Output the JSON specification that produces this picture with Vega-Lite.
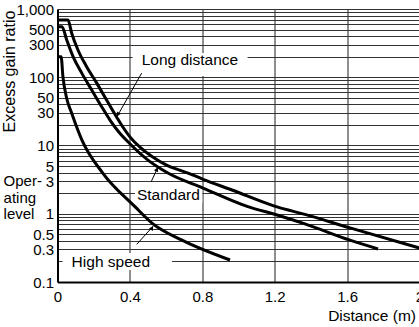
{
  "$schema": "https://vega.github.io/schema/vega-lite/v6.json",
  "width": 362,
  "height": 273,
  "autosize": {"type": "none"},
  "padding": {"left": 57.5, "top": 9, "right": 0, "bottom": 45},
  "background": "white",
  "config": {"view": {"stroke": null}, "font": "Liberation Sans"},
  "datasets": {
    "curves": [
      {"series": "Long distance", "x": 0, "y": 690},
      {"series": "Long distance", "x": 0.058, "y": 690},
      {"series": "Long distance", "x": 0.078, "y": 445},
      {"series": "Long distance", "x": 0.113, "y": 251},
      {"series": "Long distance", "x": 0.161, "y": 143},
      {"series": "Long distance", "x": 0.217, "y": 82},
      {"series": "Long distance", "x": 0.272, "y": 46},
      {"series": "Long distance", "x": 0.327, "y": 26},
      {"series": "Long distance", "x": 0.36, "y": 18.8},
      {"series": "Long distance", "x": 0.4, "y": 13.4},
      {"series": "Long distance", "x": 0.46, "y": 9.2},
      {"series": "Long distance", "x": 0.522, "y": 6.9},
      {"series": "Long distance", "x": 0.6, "y": 5.2},
      {"series": "Long distance", "x": 0.721, "y": 3.95},
      {"series": "Long distance", "x": 0.804, "y": 3.2},
      {"series": "Long distance", "x": 0.964, "y": 2.23},
      {"series": "Long distance", "x": 1.213, "y": 1.26},
      {"series": "Long distance", "x": 1.367, "y": 0.98},
      {"series": "Long distance", "x": 1.616, "y": 0.62},
      {"series": "Long distance", "x": 2.0, "y": 0.315},
      {"series": "Standard", "x": 0, "y": 550},
      {"series": "Standard", "x": 0.025, "y": 550},
      {"series": "Standard", "x": 0.051, "y": 351},
      {"series": "Standard", "x": 0.086, "y": 200},
      {"series": "Standard", "x": 0.134, "y": 115},
      {"series": "Standard", "x": 0.189, "y": 65},
      {"series": "Standard", "x": 0.244, "y": 37},
      {"series": "Standard", "x": 0.29, "y": 23.6},
      {"series": "Standard", "x": 0.34, "y": 15.6},
      {"series": "Standard", "x": 0.4, "y": 10.6},
      {"series": "Standard", "x": 0.5, "y": 6.1},
      {"series": "Standard", "x": 0.61, "y": 3.95},
      {"series": "Standard", "x": 0.804, "y": 2.38},
      {"series": "Standard", "x": 1.052, "y": 1.27},
      {"series": "Standard", "x": 1.213, "y": 0.96},
      {"series": "Standard", "x": 1.367, "y": 0.71},
      {"series": "Standard", "x": 1.616, "y": 0.41},
      {"series": "Standard", "x": 1.771, "y": 0.305},
      {"series": "High speed", "x": 0, "y": 200},
      {"series": "High speed", "x": 0.02, "y": 200},
      {"series": "High speed", "x": 0.03, "y": 102},
      {"series": "High speed", "x": 0.05, "y": 50},
      {"series": "High speed", "x": 0.08, "y": 29},
      {"series": "High speed", "x": 0.135, "y": 12},
      {"series": "High speed", "x": 0.25, "y": 3.95},
      {"series": "High speed", "x": 0.428, "y": 1.27},
      {"series": "High speed", "x": 0.522, "y": 0.73},
      {"series": "High speed", "x": 0.688, "y": 0.41},
      {"series": "High speed", "x": 0.953, "y": 0.21}
    ],
    "boxes": [
      {"name": "Long distance", "x": 0.415, "x2": 1.05, "y": 104, "y2": 226},
      {"name": "Standard", "x": 0.428, "x2": 0.8, "y": 1.44, "y2": 2.47},
      {"name": "High speed", "x": 0.028, "x2": 0.633, "y": 0.15, "y2": 0.266}
    ],
    "labels": [
      {"text": "Long distance", "x": 0.465, "y": 179},
      {"text": "Standard", "x": 0.439, "y": 1.88},
      {"text": "High speed", "x": 0.078, "y": 0.198}
    ],
    "side": [
      {"text": "Oper-\nating\nlevel", "x": -0.298, "y": 3}
    ],
    "arrows": [
      {"name": "Long distance", "x": 0.465, "y": 115, "x2": 0.327, "y2": 26},
      {"name": "Standard", "x": 0.517, "y": 2.92, "x2": 0.555, "y2": 4.84},
      {"name": "High speed", "x": 0.4376, "y": 0.356, "x2": 0.529, "y2": 0.66}
    ],
    "heads": [
      {"name": "Long distance", "x": 0.334, "y": 28.5},
      {"name": "Standard", "x": 0.549, "y": 4.48},
      {"name": "High speed", "x": 0.522, "y": 0.617}
    ]
  },
  "encoding": {
    "x": {
      "field": "x",
      "type": "quantitative",
      "scale": {"type": "linear", "domain": [0, 2], "nice": false, "zero": false},
      "axis": {
        "values": [0, 0.4, 0.8, 1.2, 1.6, 2],
        "labelExpr": "'' + datum.value",
        "grid": true,
        "gridColor": "#444",
        "gridWidth": 1.2,
        "gridOpacity": 1,
        "ticks": false,
        "domain": true,
        "domainColor": "black",
        "domainWidth": 2,
        "labelFlush": false,
        "labelOverlap": false,
        "labelPadding": 7,
        "labelFontSize": 15,
        "labelColor": "black",
        "title": "Distance (m)",
        "titleFontSize": 15.5,
        "titleFontWeight": "normal",
        "titleColor": "black",
        "titleX": 358,
        "titleY": 33,
        "titleAlign": "right",
        "titleBaseline": "middle"
      }
    },
    "y": {
      "field": "y",
      "type": "quantitative",
      "scale": {"type": "log", "domain": [0.1, 1000], "nice": false},
      "axis": {
        "values": [0.1, 0.2, 0.3, 0.4, 0.5, 0.6, 0.7, 0.8, 0.9, 1, 2, 3, 4, 5, 6, 7, 8, 9, 10, 20, 30, 40, 50, 60, 70, 80, 90, 100, 200, 300, 400, 500, 600, 700, 800, 900, 1000],
        "labelExpr": "datum.value == 1000 ? '1,000' : (indexof([0.1, 0.3, 0.5, 1, 3, 5, 10, 30, 50, 100, 300, 500], datum.value) >= 0 ? '' + datum.value : '')",
        "grid": true,
        "gridColor": "#333",
        "gridWidth": 1,
        "gridOpacity": 1,
        "ticks": false,
        "domain": true,
        "domainColor": "black",
        "domainWidth": 2,
        "labelOverlap": false,
        "labelPadding": 4,
        "labelFontSize": 15,
        "labelColor": "black",
        "title": "Excess gain ratio",
        "titleFontSize": 16,
        "titleFontWeight": "normal",
        "titleColor": "black",
        "titleAngle": -90,
        "titleX": -48.5,
        "titleY": 62,
        "titleAlign": "center",
        "titleBaseline": "middle"
      }
    }
  },
  "layer": [
    {
      "data": {"name": "boxes"},
      "mark": {"type": "rect", "color": "white"},
      "encoding": {"x2": {"field": "x2"}, "y2": {"field": "y2"}}
    },
    {
      "data": {"name": "curves"},
      "mark": {"type": "line", "color": "black", "strokeWidth": 3, "interpolate": "monotone"},
      "encoding": {"detail": {"field": "series"}}
    },
    {
      "data": {"name": "arrows"},
      "mark": {"type": "rule", "color": "black", "strokeWidth": 1},
      "encoding": {"x2": {"field": "x2"}, "y2": {"field": "y2"}}
    },
    {
      "data": {"name": "heads"},
      "transform": [{"filter": "datum.name == 'Long distance'"}],
      "mark": {"type": "point", "shape": "triangle-up", "filled": true, "color": "black", "size": 22, "angle": 210, "opacity": 1},
      "encoding": {}
    },
    {
      "data": {"name": "heads"},
      "transform": [{"filter": "datum.name == 'Standard'"}],
      "mark": {"type": "point", "shape": "triangle-up", "filled": true, "color": "black", "size": 22, "angle": 25, "opacity": 1},
      "encoding": {}
    },
    {
      "data": {"name": "heads"},
      "transform": [{"filter": "datum.name == 'High speed'"}],
      "mark": {"type": "point", "shape": "triangle-up", "filled": true, "color": "black", "size": 22, "angle": 31, "opacity": 1},
      "encoding": {}
    },
    {
      "data": {"name": "labels"},
      "mark": {"type": "text", "align": "left", "baseline": "middle", "fontSize": 15.5, "color": "black"},
      "encoding": {"text": {"field": "text"}}
    },
    {
      "data": {"name": "side"},
      "mark": {"type": "text", "align": "left", "baseline": "middle", "fontSize": 15, "color": "black", "lineBreak": "\n", "lineHeight": 16.5},
      "encoding": {"text": {"field": "text"}}
    }
  ]
}
